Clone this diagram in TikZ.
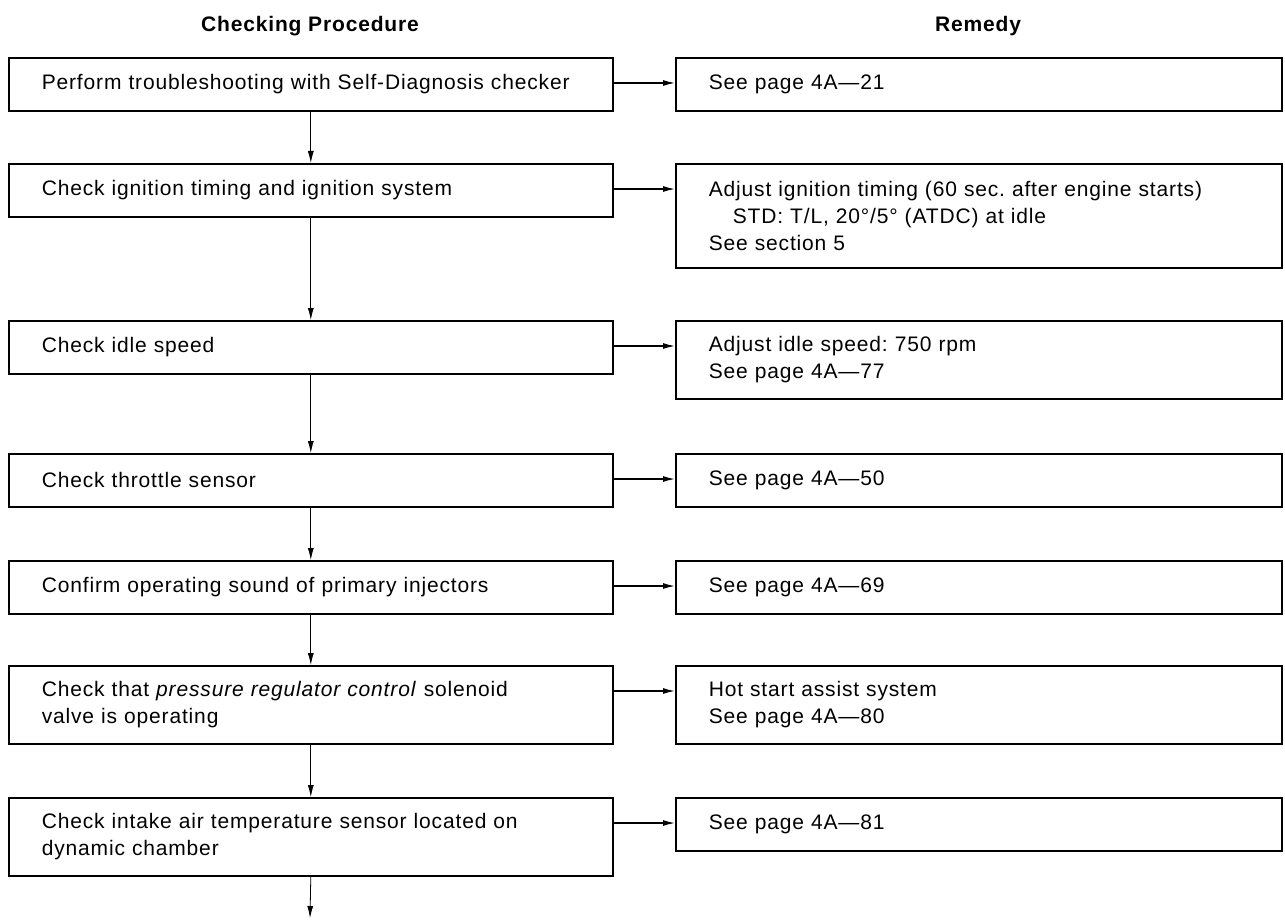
\documentclass[tikz,border=0pt]{standalone}
\usepackage{fontspec}
\setmainfont{Liberation Sans}[LetterSpace=4]
\usepackage{tikz}
\usetikzlibrary{arrows.meta}
\frenchspacing

\tikzset{
  box/.style={draw, line width=0.8pt, anchor=north west, align=left,
    inner xsep=16.5pt, inner ysep=0pt, font=\fontsize{10.5}{13.5}\selectfont},
  lbox/.style={box, text width=269pt},
  rbox/.style={box, text width=270pt},
  one/.style={minimum height=26.5pt},
  two/.style={minimum height=39pt},
  three/.style={minimum height=52pt},
  arr/.style={-{Latex[length=6pt,width=3pt]}, line width=0.7pt},
  varr/.style={-{Latex[length=6pt,width=3pt]}, line width=0.4pt},
  head/.style={font=\bfseries\fontsize{10.5}{12}\selectfont}
}

\begin{document}
\begin{tikzpicture}[x=0.5pt,y=-0.5pt]

    % Page frame
    \useasboundingbox (0,0) rectangle (1285,920);

    % Column headings
    \node[head] (hcheck) at (310,26) {Checking Procedure};
    \node[head] (hremedy) at (978,26) {Remedy};

    % Checking procedure boxes
    \node[lbox, one] (L1) at (8,57) {Perform troubleshooting with Self-Diagnosis checker};
    \node[lbox, one] (L2) at (8,163) {Check ignition timing and ignition system};
    \node[lbox, one] (L3) at (8,320) {Check idle speed};
    \node[lbox, one] (L4) at (8,453) {Check throttle sensor};
    \node[lbox, one] (L5) at (8,560) {Confirm operating sound of primary injectors};
    \node[lbox, two] (L6) at (8,665) {Check that \textit{pressure regulator control} solenoid\\valve is operating};
    \node[lbox, two] (L7) at (8,797) {Check intake air temperature sensor located on\\dynamic chamber};
    \coordinate (Lend) at (310,918);

    % Remedy boxes
    \node[rbox, one] (R1) at (675,57) {See page 4A—21};
    \node[rbox, three] (R2) at (675,163) {Adjust ignition timing (60 sec. after engine starts)\\\hspace*{12pt}STD: T/L, 20°/5° (ATDC) at idle\\See section 5};
    \node[rbox, two] (R3) at (675,320) {Adjust idle speed: 750 rpm\\See page 4A—77};
    \node[rbox, one] (R4) at (675,453) {See page 4A—50};
    \node[rbox, one] (R5) at (675,560) {See page 4A—69};
    \node[rbox, two] (R6) at (675,665) {Hot start assist system\\See page 4A—80};
    \node[rbox, one] (R7) at (675,797) {See page 4A—81};

    % Arrows down the procedure
    \draw[varr] (L1.south) -- (L2.north);
    \draw[varr] (L2.south) -- (L3.north);
    \draw[varr] (L3.south) -- (L4.north);
    \draw[varr] (L4.south) -- (L5.north);
    \draw[varr] (L5.south) -- (L6.north);
    \draw[varr] (L6.south) -- (L7.north);
    \draw[varr] (L7.south) -- (Lend);

    % Arrows to the remedies
    \draw[arr] ([yshift=-13pt]L1.north east) -- ([yshift=-13pt]R1.north west);
    \draw[arr] ([yshift=-13pt]L2.north east) -- ([yshift=-13pt]R2.north west);
    \draw[arr] ([yshift=-13pt]L3.north east) -- ([yshift=-13pt]R3.north west);
    \draw[arr] ([yshift=-13pt]L4.north east) -- ([yshift=-13pt]R4.north west);
    \draw[arr] ([yshift=-13pt]L5.north east) -- ([yshift=-13pt]R5.north west);
    \draw[arr] ([yshift=-13pt]L6.north east) -- ([yshift=-13pt]R6.north west);
    \draw[arr] ([yshift=-13pt]L7.north east) -- ([yshift=-13pt]R7.north west);

\end{tikzpicture}
\end{document}
